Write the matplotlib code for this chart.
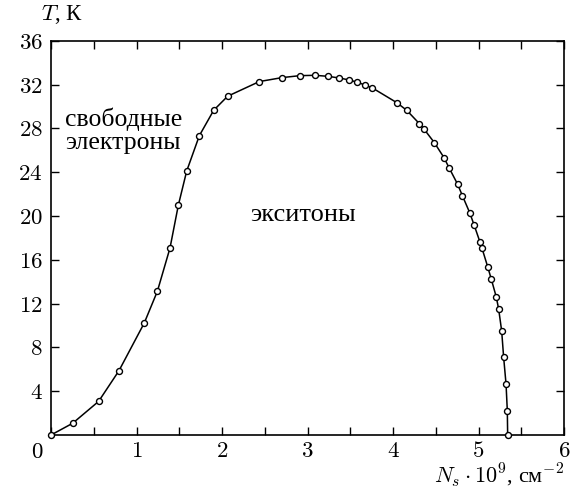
import matplotlib
matplotlib.use("Agg")
import matplotlib.pyplot as plt
from matplotlib.ticker import MultipleLocator, FixedLocator

plt.rcParams['mathtext.fontset'] = 'cm'
plt.rcParams['font.family'] = ['Liberation Serif', 'DejaVu Serif']

# data
ns = [0.0, 0.253, 0.557, 0.795, 1.091, 1.244, 1.392, 1.489, 1.587, 1.735,
      1.903, 2.066, 2.437, 2.702, 2.912, 3.088, 3.236, 3.368, 3.485, 3.583,
      3.676, 3.758, 4.043, 4.160, 4.308, 4.359, 4.483, 4.596, 4.659, 4.756,
      4.811, 4.897, 4.947, 5.018, 5.041, 5.107, 5.150, 5.208, 5.236, 5.271,
      5.294, 5.322, 5.337, 5.341]
temp = [0.0, 1.07, 3.07, 5.87, 10.23, 13.12, 17.08, 20.97, 24.1, 27.33,
        29.65, 30.93, 32.27, 32.63, 32.81, 32.84, 32.75, 32.6, 32.42, 32.21,
        31.94, 31.69, 30.35, 29.65, 28.43, 27.97, 26.7, 25.33, 24.35, 22.89,
        21.86, 20.3, 19.21, 17.6, 17.05, 15.37, 14.22, 12.6, 11.48, 9.5,
        7.1, 4.66, 2.22, 0.0]
xticks = [1, 2, 3, 4, 5, 6]
yticks = [4, 8, 12, 16, 20, 24, 28, 32, 36]

W, H = 578, 492
fig = plt.figure(figsize=(W / 100, H / 100), dpi=100)
ax = fig.add_axes([51 / W, 1 - 435 / H, (564 - 51) / W, (435 - 40.7) / H])

ax.plot(ns, temp, '-', color='black', lw=1.1, marker='o', ms=4.3,
        mfc='white', mec='black', mew=1.0, clip_on=False, zorder=3)

ax.set_xlim(0, 6)
ax.set_ylim(0, 36)
ax.xaxis.set_major_locator(FixedLocator(xticks))
ax.xaxis.set_minor_locator(MultipleLocator(0.5))
ax.yaxis.set_major_locator(FixedLocator(yticks))
ax.set_xticklabels([f'${v}$' for v in xticks])
ax.set_yticklabels([f'${v}$' for v in yticks])
ax.tick_params(which='both', direction='in', top=True, right=True,
               length=6, width=1.0, labelsize=16.5, color='black')
ax.tick_params(axis='x', pad=4)
ax.tick_params(axis='y', pad=6)
for s in ax.spines.values():
    s.set_linewidth(1.2)

ax.text(-0.16, -0.65, '$0$', fontsize=16.5, ha='center', va='top')

ax.text(0.16, 27.8, 'свободные\nэлектроны', fontsize=18.5, ha='left',
        va='center', linespacing=1.05)
ax.text(2.95, 20.1, 'экситоны', fontsize=19, ha='center', va='center')

fig.text(41 / W, 1 - 15 / H, r'$T$, К', fontsize=16.5, ha='left', va='center')
fig.text(564 / W, 1 - 483 / H, r'$N_s\cdot10^9$, см$^{-2}$', fontsize=16,
         ha='right', va='baseline')

fig.savefig('out.png', dpi=100)
